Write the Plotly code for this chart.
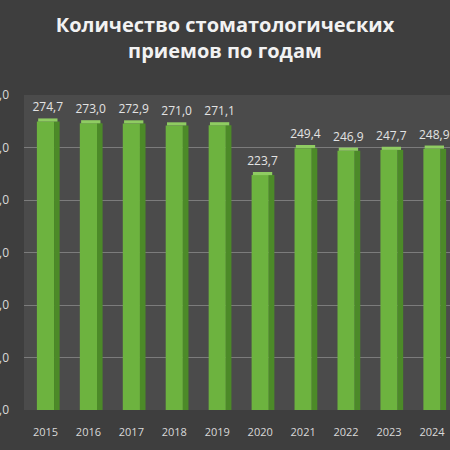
import plotly.graph_objects as go

# данные
years = ["2015", "2016", "2017", "2018", "2019", "2020", "2021", "2022", "2023", "2024"]
visits = [274.7, 273.0, 272.9, 271.0, 271.1, 223.7, 249.4, 246.9, 247.7, 248.9]
tick_vals = [0, 50, 100, 150, 200, 250, 300]
tick_text = ["0,0", "50,0", "100,0", "150,0", "200,0", "250,0", "300,0"]

labels = [f"{v:.1f}".replace(".", ",") for v in visits]

fig = go.Figure()

# front face of the bars
fig.add_trace(go.Bar(
    x=years, y=visits,
    width=0.4, offset=-0.2,
    marker=dict(color="#6db33f", line=dict(width=0)),
    hoverinfo="skip",
))

# darker side face for a fake 3D look
fig.add_trace(go.Bar(
    x=years, y=visits,
    width=0.13, offset=0.2,
    marker=dict(color="#4c8a28", line=dict(width=0)),
    hoverinfo="skip",
))

# light top face, carries the value labels
fig.add_trace(go.Bar(
    x=years, y=[3] * len(visits), base=visits,
    width=0.45, offset=-0.17,
    marker=dict(color="#8fcc62", line=dict(width=0)),
    text=labels, textposition="outside",
    constraintext="none",
    textfont=dict(family="Open Sans", size=12, color="#e3e3e3"),
    cliponaxis=False,
    hoverinfo="skip",
))

fig.update_layout(
    width=450, height=450,
    title=dict(
        text="<b>Количество стоматологических<br>приемов по годам</b>",
        x=0.5, xanchor="center", y=0.93, yanchor="top",
        font=dict(family="Open Sans", size=20, color="#f2f2f2"),
    ),
    paper_bgcolor="#3e3e3e",
    plot_bgcolor="#4b4b4b",
    margin=dict(l=24, r=0, t=95, b=40, autoexpand=False),
    barmode="overlay",
    showlegend=False,
)

fig.update_xaxes(
    type="category",
    range=[-0.5, 9.42],
    automargin=False,
    showgrid=False, zeroline=False,
    ticks="", showline=False,
    ticklabelstandoff=14,
    tickfont=dict(family="Open Sans", size=11, color="#d9d9d9"),
)

fig.update_yaxes(
    range=[0, 300],
    automargin=False,
    tickvals=tick_vals, ticktext=tick_text,
    showgrid=True, gridcolor="#7c7c7c", gridwidth=1,
    zeroline=False, showline=False,
    ticklabelstandoff=14,
    tickfont=dict(family="Open Sans", size=12, color="#d9d9d9"),
)

fig.write_html("out.html", config={"displayModeBar": False},
               post_script="document.body.style.margin='0';")
